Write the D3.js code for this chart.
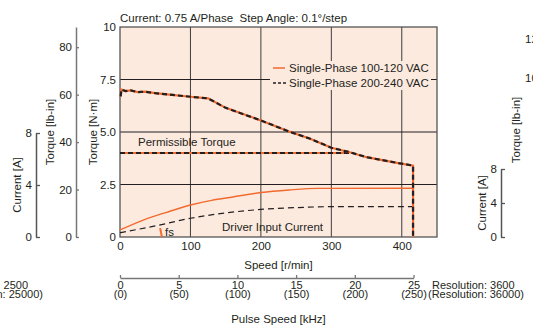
<!DOCTYPE html>
<html>
<head>
<meta charset="utf-8">
<script src="https://cdn.jsdelivr.net/npm/d3@7"></script>
<style>
body { margin: 0; background: #fff; }
svg { display: block; font-family: "Liberation Sans", Arial, sans-serif; }
</style>
</head>
<body>
<div id="chart"></div>
<script>
// speed [r/min] and torque [N·m]
const pulloutSpeed  = [1, 2, 8, 15, 25, 35, 50, 70, 100, 125, 150, 200, 240, 270, 300, 325, 350, 395, 416, 416];
const pulloutTorque = [6.7, 7.02, 6.95, 6.98, 6.9, 6.92, 6.85, 6.78, 6.68, 6.6, 6.15, 5.55, 5.02, 4.68, 4.25, 4.05, 3.8, 3.52, 3.4, 0];
const permSpeed  = [0, 325];
const permTorque = [4.0, 4.0];

// driver input current [A]
const currLowSpeed  = [0, 33, 66, 100, 130, 160, 200, 240, 280, 416];
const currLowAmp    = [0.54, 1.3, 1.9, 2.46, 2.82, 3.08, 3.42, 3.62, 3.74, 3.75];
const currHighSpeed = [0, 50, 100, 150, 200, 250, 300, 416];
const currHighAmp   = [0.33, 0.85, 1.44, 1.85, 2.12, 2.26, 2.33, 2.33];

const fsSpeed = [57, 59.5];
const fsAmp = [0.68, 0];

const speedTicks = [0, 100, 200, 300, 400];
const torqueTicks = [0, 2.5, 5, 7.5, 10];
const torqueLabels = ["0", "2.5", "5.0", "7.5", "10"];
const lbTicks = [0, 20, 40, 60, 80];
const ampTicks = [0, 4, 8];
const khzTicks = [0, 5, 10, 15, 20, 25];
const khzHiLabels = ["(0)", "(50)", "(100)", "(150)", "(200)", "(250)"];
const legendLabels = ["Single-Phase 100-120 VAC", "Single-Phase 200-240 VAC"];

const width = 533, height = 329;
const orange = "#f26a2e";
const ink = "#231f20";
const bg = "#fdeadf";
const fs = "11.5px";

const svg = d3.select("#chart").append("svg")
    .attr("width", width)
    .attr("height", height);

const x = d3.scaleLinear().domain([0, 450]).range([120, 437]);
const y = d3.scaleLinear().domain([0, 10]).range([237, 27]);
const yLb = d3.scaleLinear().domain([0, 10 * 8.851]).range([237, 27]);
const yAmp = d3.scaleLinear().domain([0, 8]).range([237, 133]);
const xKhz = d3.scaleLinear().domain([0, 25]).range([x(0), x(25000 * 60 / 3600)]);

// plot background
svg.append("rect")
    .attr("x", x(0)).attr("y", y(10))
    .attr("width", x(450) - x(0)).attr("height", y(0) - y(10))
    .attr("fill", bg);

// grid
svg.append("g").selectAll("line")
    .data(speedTicks.slice(1))
    .enter().append("line")
    .attr("x1", d => x(d)).attr("x2", d => x(d))
    .attr("y1", y(10)).attr("y2", y(0))
    .attr("stroke", "#3d3d3d").attr("stroke-width", 1);

svg.append("g").selectAll("line")
    .data(torqueTicks.slice(1, 4))
    .enter().append("line")
    .attr("x1", x(0)).attr("x2", x(450))
    .attr("y1", d => y(d)).attr("y2", d => y(d))
    .attr("stroke", ink).attr("stroke-width", 1);

// legend box knocks out the grid
svg.append("rect")
    .attr("x", 270).attr("y", 61).attr("width", 161).attr("height", 29)
    .attr("fill", bg);

// frame
svg.append("rect")
    .attr("x", x(0)).attr("y", y(10))
    .attr("width", x(450) - x(0)).attr("height", y(0) - y(10))
    .attr("fill", "none").attr("stroke", "#555").attr("stroke-width", 1.3);

const lineT = d3.line().x(d => x(d[0])).y(d => y(d[1]));
const lineA = d3.line().x(d => x(d[0])).y(d => yAmp(d[1])).curve(d3.curveMonotoneX);

// currents
svg.append("path")
    .attr("d", lineA(d3.zip(currLowSpeed, currLowAmp)))
    .attr("fill", "none").attr("stroke", orange).attr("stroke-width", 1.4);
svg.append("path")
    .attr("d", lineA(d3.zip(currHighSpeed, currHighAmp)))
    .attr("fill", "none").attr("stroke", ink).attr("stroke-width", 1.2)
    .attr("stroke-dasharray", "6,4");

// fs marker
svg.append("path")
    .attr("d", d3.line().x(d => x(d[0])).y(d => yAmp(d[1]))(d3.zip(fsSpeed, fsAmp)))
    .attr("stroke", orange).attr("stroke-width", 2).attr("fill", "none");

// torque curves: orange solid under black dashes
[d3.zip(permSpeed, permTorque), d3.zip(pulloutSpeed, pulloutTorque)].forEach(pts => {
    svg.append("path").attr("d", lineT(pts))
        .attr("fill", "none").attr("stroke", orange).attr("stroke-width", 2.2);
    svg.append("path").attr("d", lineT(pts))
        .attr("fill", "none").attr("stroke", ink).attr("stroke-width", 2.2)
        .attr("stroke-dasharray", "5,3");
});

// legend
svg.append("line").attr("x1", 273).attr("x2", 285).attr("y1", 68).attr("y2", 68)
    .attr("stroke", orange).attr("stroke-width", 1.5);
svg.append("line").attr("x1", 273).attr("x2", 286).attr("y1", 83).attr("y2", 83)
    .attr("stroke", ink).attr("stroke-width", 1.3).attr("stroke-dasharray", "3,2");
svg.selectAll(".leg")
    .data(legendLabels)
    .enter().append("text")
    .attr("x", 289).attr("y", (d, i) => 72 + i * 15)
    .attr("font-size", fs).attr("fill", ink)
    .text(d => d);

function label(txt, px, py, opts = {}) {
    const t = svg.append("text")
        .attr("x", px).attr("y", py)
        .attr("font-size", opts.size || fs)
        .attr("fill", ink)
        .attr("text-anchor", opts.anchor || "start")
        .style("white-space", "pre")
        .text(txt);
    if (opts.rotate) t.attr("transform", `rotate(-90,${px},${py})`);
    return t;
}

label("Current: 0.75 A/Phase  Step Angle: 0.1°/step", 120, 21.5);
label("Permissible Torque", 138, 145.5);
label("Driver Input Current", 222, 231);
label("fs", 165, 236);
label("Speed [r/min]", (x(0) + x(450)) / 2, 268.5, { anchor: "middle" });
label("Pulse Speed [kHz]", (x(0) + x(450)) / 2, 323, { anchor: "middle" });
label("Torque [N·m]", 97, 132, { anchor: "middle", rotate: true });
label("Torque [lb-in]", 54, 132, { anchor: "middle", rotate: true });
label("Current [A]", 21, 185, { anchor: "middle", rotate: true });
label("Resolution: 3600", 432, 289, { size: "11px" });
label("(Resolution: 36000)", 428, 298, { size: "11px" });
label("Resolution: 2500", 28, 289, { anchor: "end", size: "11px" });
label("(Resolution: 25000)", 43, 298, { anchor: "end", size: "11px" });

// neighbouring chart, cut off at the right edge
label("Current [A]", 486, 203, { anchor: "middle", rotate: true });
label("Torque [lb-in]", 520, 130, { anchor: "middle", rotate: true });
label("120", 525, 43);
label("100", 525, 82);

function styleAxis(g, color, size) {
    g.attr("font-family", null).attr("font-size", null);
    g.selectAll("text").attr("font-size", size || fs).attr("fill", ink);
    g.selectAll(".domain").attr("stroke", color).attr("stroke-width", 1.5);
    g.selectAll(".tick line").attr("stroke", color).attr("stroke-width", 1.3);
}

// N·m axis
svg.append("g")
    .attr("transform", `translate(${x(0)},0)`)
    .call(d3.axisLeft(y).tickValues(torqueTicks).tickSize(0).tickPadding(4)
        .tickFormat((d, i) => torqueLabels[i]))
    .call(g => g.select(".domain").remove())
    .call(g => styleAxis(g, "#555"));

// speed axis
svg.append("g")
    .attr("transform", `translate(0,${y(0)})`)
    .call(d3.axisBottom(x).tickValues(speedTicks).tickSize(0).tickPadding(5))
    .call(g => g.select(".domain").remove())
    .call(g => styleAxis(g, "#555"));

// lb-in axis
svg.append("g")
    .attr("transform", "translate(76,0)")
    .call(d3.axisLeft(yLb).tickValues(lbTicks).tickSizeInner(-3).tickSizeOuter(0).tickPadding(4))
    .call(g => styleAxis(g, "#777"));

// current axis
svg.append("g")
    .attr("transform", "translate(36,0)")
    .call(d3.axisLeft(yAmp).tickValues(ampTicks).tickSizeInner(-4).tickSizeOuter(0).tickPadding(4))
    .call(g => styleAxis(g, "#555"));

// cut-off current axis of the next chart
const yAmp2 = d3.scaleLinear().domain([0, 8]).range([237, 169]);
svg.append("g")
    .attr("transform", "translate(501,0)")
    .call(d3.axisLeft(yAmp2).tickValues(ampTicks).tickSizeInner(-4).tickSizeOuter(0).tickPadding(4))
    .call(g => styleAxis(g, "#555"));

// pulse speed axis, kHz at 3600 and (kHz) at 36000 resolution
svg.append("g")
    .attr("transform", "translate(0,278)")
    .call(d3.axisBottom(xKhz).tickValues(khzTicks).tickSizeInner(-3).tickSizeOuter(0).tickPadding(3))
    .call(g => styleAxis(g, "#777", "11px"))
    .call(g => g.selectAll(".tick text").attr("dy", null).attr("y", 11));

svg.append("g")
    .attr("transform", "translate(0,278)")
    .call(d3.axisBottom(xKhz).tickValues(khzTicks).tickSize(0)
        .tickFormat((d, i) => khzHiLabels[i]))
    .call(g => g.select(".domain").remove())
    .call(g => styleAxis(g, "#777", "11px"))
    .call(g => g.selectAll(".tick text").attr("dy", null).attr("y", 20));
</script>
</body>
</html>
